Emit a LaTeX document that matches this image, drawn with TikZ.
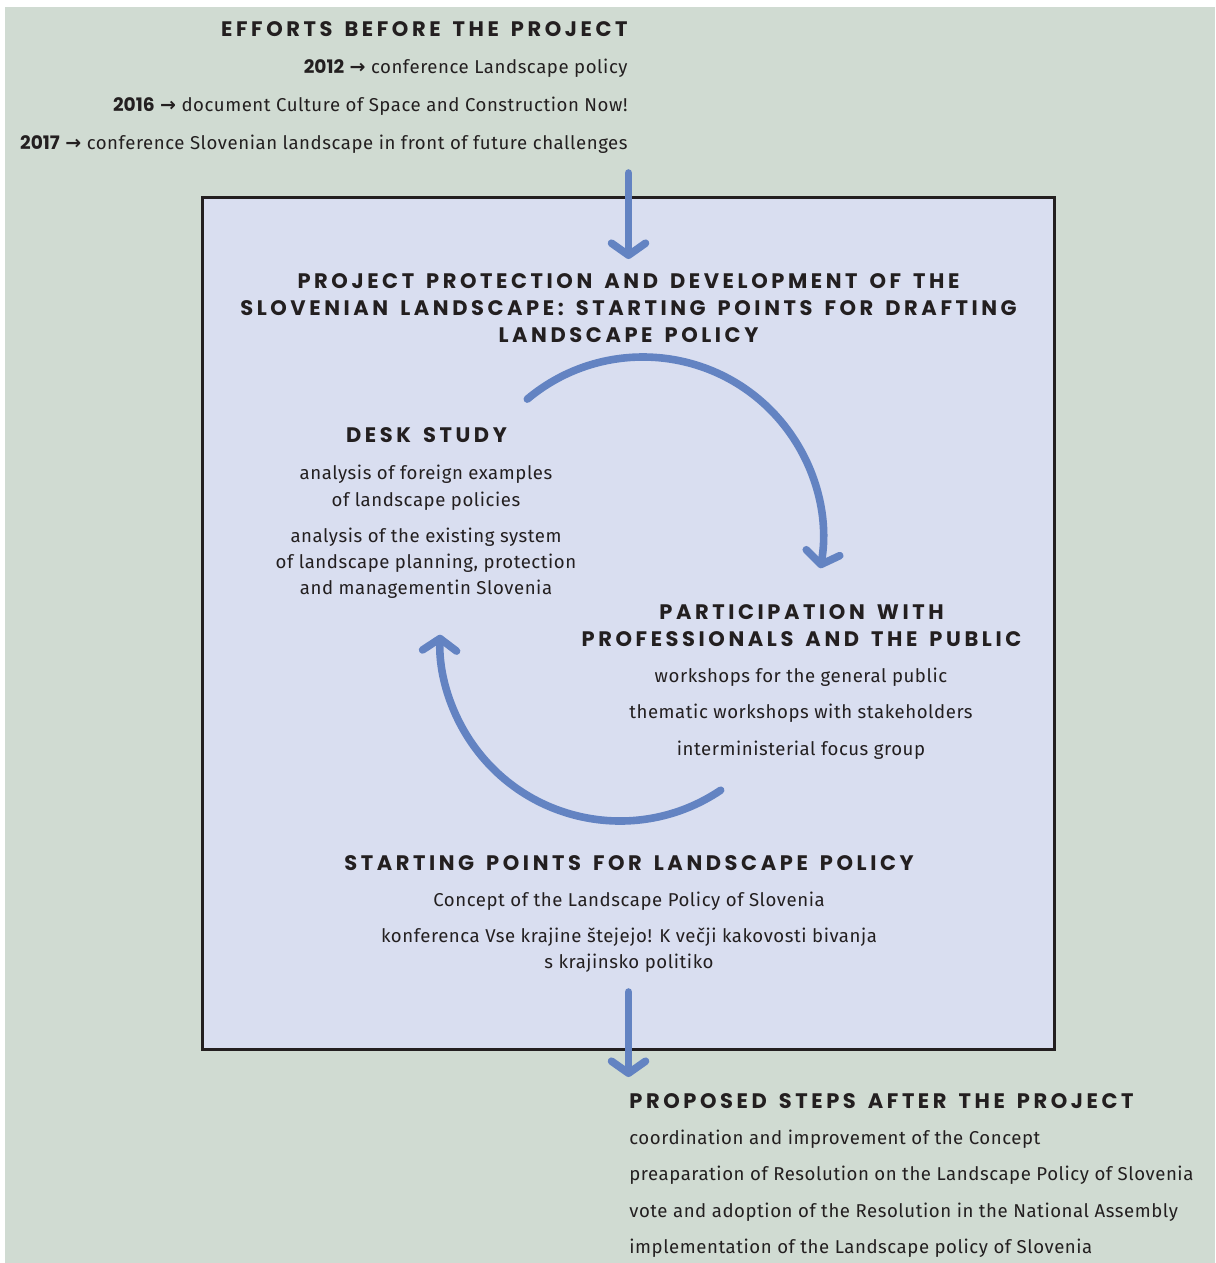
\documentclass[tikz,border=0pt]{standalone}
\usepackage{fontspec}
\setmainfont{Fira Sans}[LetterSpace=3]
\newfontfamily\headfont{Poppins}[LetterSpace=17, WordSpace=1.5]
\newfontfamily\yearfont{Poppins}
\newfontfamily\arrowfont{DejaVu Sans}
\usetikzlibrary{arrows.meta}

\definecolor{sage}{HTML}{D0DBD2}
\definecolor{lilac}{HTML}{D9DEF0}
\definecolor{flowblue}{HTML}{6383C2}
\definecolor{ink}{HTML}{231F20}

\newcommand{\yr}[1]{{\yearfont\bfseries #1}~{\arrowfont\bfseries\fontsize{9.5}{10}\selectfont →}~}

\tikzset{
  headtxt/.style={font=\headfont\bfseries\fontsize{10.5}{12}\selectfont, text=ink, inner sep=0pt},
  bodytxt/.style={font=\fontsize{9.3}{10}\selectfont, text=ink, inner sep=0pt},
  flow/.style={draw=flowblue, line width=3.8pt, line cap=round,
    -{Straight Barb[round, length=6pt, width=17pt]}},
}

\begin{document}
\begin{tikzpicture}[x=0.5pt, y=0.5pt]
    % page and background
    \fill[white] (0,0) rectangle (1215,-1263);
    \fill[sage] (5,-7) rectangle (1215,-1263);
    \useasboundingbox (0,0) rectangle (1215,-1263);
    \draw[ink, line width=1.5pt, fill=lilac] (202.5,-197.5) rectangle (1054.5,-1049.5);

    % efforts before the project
    \node[headtxt, anchor=base east] (efforts) at (628,-37) {EFFORTS BEFORE THE PROJECT};
    \node[bodytxt, anchor=base east] (e2012) at (628,-74) {\yr{2012}conference Landscape policy};
    \node[bodytxt, anchor=base east] (e2016) at (628,-111.5) {\yr{2016}document Culture of Space and Construction Now!};
    \node[bodytxt, anchor=base east] (e2017) at (628,-149) {\yr{2017}conference Slovenian landscape in front of future challenges};

    % project title
    \node[headtxt, anchor=base] (title1) at (628.5,-288) {PROJECT PROTECTION AND DEVELOPMENT OF THE};
    \node[headtxt, anchor=base] (title2) at (628.5,-315) {SLOVENIAN LANDSCAPE: STARTING POINTS FOR DRAFTING};
    \node[headtxt, anchor=base] (title3) at (628.5,-342) {LANDSCAPE POLICY};

    % desk study
    \node[headtxt, anchor=base] (desk) at (426.5,-442) {DESK STUDY};
    \node[bodytxt, anchor=base] (desk1) at (426,-479) {analysis of foreign examples};
    \node[bodytxt, anchor=base] (desk2) at (426,-506) {of landscape policies};
    \node[bodytxt, anchor=base] (desk3) at (426,-542) {analysis of the existing system};
    \node[bodytxt, anchor=base] (desk4) at (426,-568) {of landscape planning, protection};
    \node[bodytxt, anchor=base] (desk5) at (426,-594) {and managementin Slovenia};

    % participation
    \node[headtxt, anchor=base] (part1) at (801.5,-619) {PARTICIPATION WITH};
    \node[headtxt, anchor=base] (part2) at (801.5,-646) {PROFESSIONALS AND THE PUBLIC};
    \node[bodytxt, anchor=base] (work1) at (801,-682) {workshops for the general public};
    \node[bodytxt, anchor=base] (work2) at (801,-718) {thematic workshops with stakeholders};
    \node[bodytxt, anchor=base] (work3) at (801,-755.5) {interministerial focus group};

    % starting points
    \node[headtxt, anchor=base] (start) at (629,-870) {STARTING POINTS FOR LANDSCAPE POLICY};
    \node[bodytxt, anchor=base] (start1) at (629,-906.5) {Concept of the Landscape Policy of Slovenia};
    \node[bodytxt, anchor=base] (start2) at (629,-942) {konferenca Vse krajine štejejo! K večji kakovosti bivanja};
    \node[bodytxt, anchor=base] (start3) at (629,-968) {s krajinsko politiko};

    % proposed steps after the project
    \node[headtxt, anchor=base west] (after) at (629,-1108) {PROPOSED STEPS AFTER THE PROJECT};
    \node[bodytxt, anchor=base west] (after1) at (629,-1144) {coordination and improvement of the Concept};
    \node[bodytxt, anchor=base west] (after2) at (629,-1180) {preaparation of Resolution on the Landscape Policy of Slovenia};
    \node[bodytxt, anchor=base west] (after3) at (629,-1217) {vote and adoption of the Resolution in the National Assembly};
    \node[bodytxt, anchor=base west] (after4) at (629,-1253) {implementation of the Landscape policy of Slovenia};

    % arrows
    \coordinate (inTop) at (628.5,-173);
    \coordinate (inEnd) at (628.5,-259);
    \coordinate (outTop) at (628.5,-992);
    \coordinate (outEnd) at (628.5,-1077);
    \coordinate (upC) at (643,-537);
    \coordinate (lowC) at (620,-641);
    \draw[flow] (inTop) -- (inEnd);
    \draw[flow] (outTop) -- (outEnd);
    \draw[flow] (upC) ++(130:180) arc[start angle=130, end angle=-10, radius=180];
    \draw[flow] (lowC) ++(-56:180) arc[start angle=-56, end angle=-182, radius=180];
\end{tikzpicture}
\end{document}
